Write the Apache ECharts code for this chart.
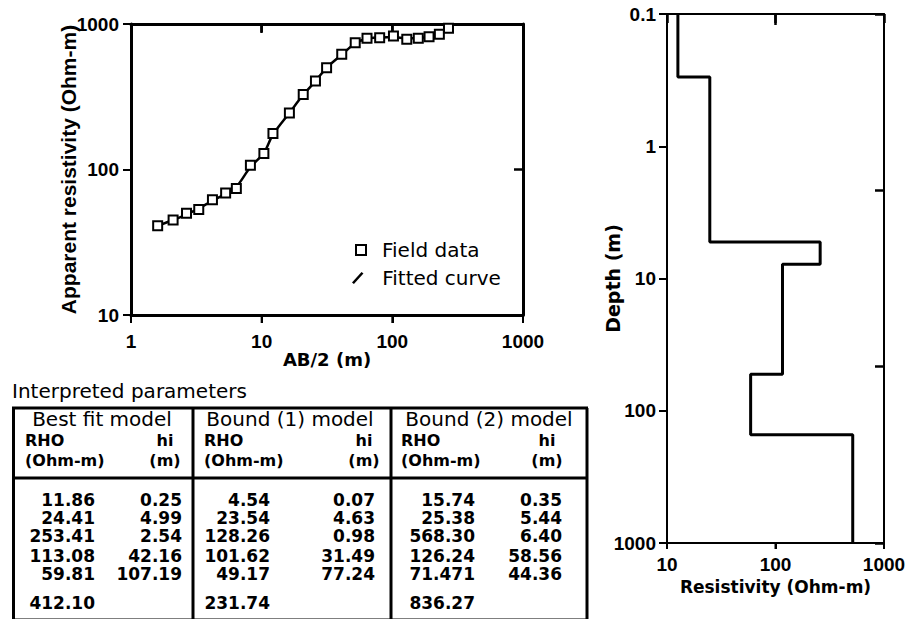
<!DOCTYPE html>
<html>
<head>
<meta charset="utf-8">
<script src="https://cdn.jsdelivr.net/npm/echarts@6/dist/echarts.min.js"></script>
<style>
  html, body { margin: 0; padding: 0; background: #fff; }
  #chart { width: 912px; height: 619px; }
</style>
</head>
<body>
<div id="chart"></div>
<script>
// sounding curve (AB/2 in m, apparent resistivity in Ohm-m)
var fieldAB  = [1.6, 2.1, 2.66, 3.3, 4.2, 5.3, 6.4, 8.2, 10.4, 12.2, 16.3, 20.8, 25.8, 31.4, 41, 52, 64, 80, 102, 129, 158, 191, 229, 269];
var fieldRho = [41, 45, 50, 53, 62, 69, 74, 107, 129, 177, 245, 328, 406, 500, 619, 744, 798, 805, 827, 785, 798, 818, 849, 934];
var fitRho   = [41, 45, 49, 54, 61, 68, 76, 104, 130, 174, 245, 326, 405, 500, 615, 738, 792, 808, 815, 795, 800, 816, 850, 928];

// layered model shown on the right (resistivity per layer, depth of boundaries)
var layerRho   = [12.6, 24.8, 258, 116, 59, 515];
var layerDepth = [0.1, 0.3, 5.3, 7.8, 53, 152, 1000];

// x tick positions (bottom: outward, top: inward)
var leftBottomTicks  = [1, 10, 100, 1000];
var leftTopTicks     = [10, 100];
var rightBottomTicks = [10, 100, 1000];
var rightTopTicks    = [100];

// table
var tableTitle = "Interpreted parameters";
var modelNames = ["Best fit model", "Bound (1) model", "Bound (2) model"];
var bestRho = ["11.86", "24.41", "253.41", "113.08", "59.81", "412.10"];
var bestHi  = ["0.25", "4.99", "2.54", "42.16", "107.19"];
var b1Rho   = ["4.54", "23.54", "128.26", "101.62", "49.17", "231.74"];
var b1Hi    = ["0.07", "4.63", "0.98", "31.49", "77.24"];
var b2Rho   = ["15.74", "25.38", "568.30", "126.24", "71.471", "836.27"];
var b2Hi    = ["0.35", "5.44", "6.40", "58.56", "44.36"];

var myChart = echarts.init(document.getElementById("chart"), null, { renderer: "svg" });

var tickFont = {
  fontFamily: "Liberation Sans", fontWeight: "bold", fontSize: 19, color: "#000",
  formatter: function (v) { return String(+Number(v).toPrecision(6)); }
};

function logAxis(grid, min, max, pos, extra) {
  var ax = {
    type: "log", logBase: 10, gridIndex: grid, min: min, max: max, position: pos,
    nameMoveOverlap: false,
    axisLine: { onZero: false, lineStyle: { color: "#000", width: 3 } },
    axisTick: { inside: false, length: 8, lineStyle: { color: "#000", width: 2 } },
    axisLabel: Object.assign({ margin: 14 }, tickFont),
    splitLine: { show: false },
    minorTick: { show: false }
  };
  return Object.assign(ax, extra || {});
}
// mirrored frame side: same log range, inward ticks, no labels
function frameAxis(grid, min, max, pos, lw) {
  return {
    type: "log", logBase: 10, gridIndex: grid, min: min, max: max, position: pos,
    axisLine: { onZero: false, lineStyle: { color: "#000", width: lw } },
    axisTick: { show: true, inside: true, length: 9, lineStyle: { color: "#000", width: 2.5 } },
    axisLabel: { show: false },
    splitLine: { show: false },
    minorTick: { show: false }
  };
}

// x-axis tick marks drawn as thin rect symbols sitting on the axis edge
function xTickSeries(xi, yi, vals, edgeValue, len, w, offsetY) {
  return {
    type: "scatter", xAxisIndex: xi, yAxisIndex: yi, clip: false, silent: true, z: 5,
    data: vals.map(function (v) { return [v, edgeValue]; }),
    symbol: "rect", symbolSize: [w, len], symbolOffset: [0, offsetY],
    itemStyle: { color: "#000", borderWidth: 0, opacity: 1 },
    emphasis: { disabled: true }
  };
}

var stepData = [];
layerRho.forEach(function (r, i) {
  stepData.push([r, layerDepth[i]], [r, layerDepth[i + 1]]);
});

// ---- table built with graphic elements
var els = [];
var dataFont = { fontFamily: "DejaVu Sans", fontWeight: "bold", fontSize: 17, fill: "#000" };
var headFont = { fontFamily: "DejaVu Sans", fontWeight: "bold", fontSize: 16, fill: "#000" };
var normFont = { fontFamily: "DejaVu Sans", fontWeight: "normal", fontSize: 20, fill: "#000" };
function txt(x, y, s, align, f) {
  els.push({ type: "text", x: x, y: y, silent: true,
    style: Object.assign({ text: s, align: align, verticalAlign: "middle" }, f) });
}
function ln(x1, y1, x2, y2) {
  els.push({ type: "line", silent: true, shape: { x1: x1, y1: y1, x2: x2, y2: y2 },
    style: { stroke: "#000", lineWidth: 3 } });
}
txt(12, 391, tableTitle, "left", normFont);
ln(12, 408, 588, 408);
ln(13.5, 408, 13.5, 625);
ln(193, 408, 193, 625);
ln(391, 408, 391, 625);
ln(587, 408, 587, 625);
ln(12, 478, 588, 478);
ln(12, 620, 588, 620);

var colLeft = [25, 204, 401];
var colMid  = [102, 290, 489];
var rhoRight = [95, 270, 475];
var hiRight  = [182, 375, 562];
var hiCenter = [165, 364, 547];
var rowY = [500, 518, 536, 556, 574, 603];
var rhoCols = [bestRho, b1Rho, b2Rho];
var hiCols = [bestHi, b1Hi, b2Hi];
for (var c = 0; c < 3; c++) {
  txt(colMid[c], 419, modelNames[c], "center", normFont);
  txt(colLeft[c], 440, "RHO", "left", headFont);
  txt(colLeft[c], 460, "(Ohm-m)", "left", headFont);
  txt(hiCenter[c], 440, "hi", "center", headFont);
  txt(hiCenter[c], 460, "(m)", "center", headFont);
  rhoCols[c].forEach(function (v, i) { txt(rhoRight[c], rowY[i], v, "right", dataFont); });
  hiCols[c].forEach(function (v, i) { txt(hiRight[c], rowY[i], v, "right", dataFont); });
}

var option = {
  animation: false,
  backgroundColor: "#fff",
  tooltip: { show: false },
  grid: [
    { left: 131, top: 24, width: 392, height: 291 },
    { left: 667, top: 14, width: 217, height: 529 }
  ],
  xAxis: [
    logAxis(0, 1, 1000, "bottom", {
      name: "AB/2 (m)", nameLocation: "middle", nameGap: 35,
      nameTextStyle: { fontFamily: "DejaVu Sans", fontWeight: "bold", fontSize: 18, color: "#000" },
      axisLabel: Object.assign({}, tickFont, { margin: 17 })
    }),
    frameAxis(0, 1, 1000, "top", 3),
    logAxis(1, 10, 1000, "bottom", {
      name: "Resistivity (Ohm-m)", nameLocation: "middle", nameGap: 35,
      nameTextStyle: { fontFamily: "DejaVu Sans", fontWeight: "bold", fontSize: 17, color: "#000" },
      axisLine: { onZero: false, lineStyle: { color: "#000", width: 2 } },
      axisTick: { length: 6, lineStyle: { color: "#000", width: 2 } },
      axisLabel: Object.assign({}, tickFont, { margin: 12 })
    }),
    frameAxis(1, 10, 1000, "top", 2)
  ],
  yAxis: [
    logAxis(0, 10, 1000, "left", {
      name: "Apparent resistivity (Ohm-m)", nameLocation: "middle", nameGap: 52,
      nameTextStyle: { fontFamily: "Liberation Sans", fontWeight: "bold", fontSize: 21, color: "#000" },
      axisLabel: Object.assign({}, tickFont, { margin: 12 })
    }),
    frameAxis(0, 10, 1000, "right", 3),
    logAxis(1, 0.1, 1000, "left", {
      inverse: true,
      name: "Depth (m)", nameLocation: "middle", nameGap: 45,
      nameTextStyle: { fontFamily: "DejaVu Sans", fontWeight: "bold", fontSize: 19, color: "#000" },
      axisLine: { onZero: false, lineStyle: { color: "#000", width: 2 } },
      axisTick: { length: 8, lineStyle: { color: "#000", width: 2 } },
      axisLabel: Object.assign({}, tickFont, { margin: 11 })
    }),
    {
      type: "value", gridIndex: 1, min: 0, max: 3, interval: 1, position: "right",
      axisLine: { onZero: false, lineStyle: { color: "#000", width: 2 } },
      axisTick: { show: true, inside: true, length: 9, lineStyle: { color: "#000", width: 2.5 } },
      axisLabel: { show: false },
      splitLine: { show: false }
    }
  ],
  legend: [
    {
      data: [{ name: "Field data", icon: "rect" }],
      left: 355, top: 240, padding: 0, itemWidth: 10, itemHeight: 10,
      textStyle: { fontFamily: "DejaVu Sans", fontSize: 20, color: "#000", padding: [0, 0, 0, 11] },
      selectedMode: false
    },
    {
      data: [{ name: "Fitted curve", icon: "path://M0,11 L10,0 L12,1.6 L2,12.6 Z" }],
      left: 352, top: 268, padding: 0, itemWidth: 17, itemHeight: 12,
      textStyle: { fontFamily: "DejaVu Sans", fontSize: 20, color: "#000", padding: [0, 0, 0, 11] },
      selectedMode: false
    }
  ],
  series: [
    {
      name: "Fitted curve", type: "line", xAxisIndex: 0, yAxisIndex: 0,
      data: fieldAB.map(function (x, i) { return [x, fitRho[i]]; }),
      showSymbol: false, smooth: 0.3, z: 2,
      itemStyle: { color: "#000" },
      lineStyle: { color: "#000", width: 2.5 }
    },
    {
      name: "Field data", type: "scatter", xAxisIndex: 0, yAxisIndex: 0,
      data: fieldAB.map(function (x, i) { return [x, fieldRho[i]]; }),
      symbol: "rect", symbolSize: 9, z: 3,
      itemStyle: { color: "#fff", borderColor: "#000", borderWidth: 2, opacity: 1 }
    },
    {
      name: "Model", type: "line", xAxisIndex: 2, yAxisIndex: 2,
      data: stepData, showSymbol: false,
      lineStyle: { color: "#000", width: 3 }
    },
    // bottom ticks hang below the axis, top ticks point into the plot
    xTickSeries(0, 0, leftBottomTicks, 10, 8, 2, 4),
    xTickSeries(0, 0, leftTopTicks, 1000, 8, 2.5, 4),
    xTickSeries(2, 2, rightBottomTicks, 1000, 6, 2, 3),
    xTickSeries(2, 2, rightTopTicks, 0.1, 11, 2.5, 5.5)
  ],
  graphic: els
};

myChart.setOption(option);
</script>
</body>
</html>
